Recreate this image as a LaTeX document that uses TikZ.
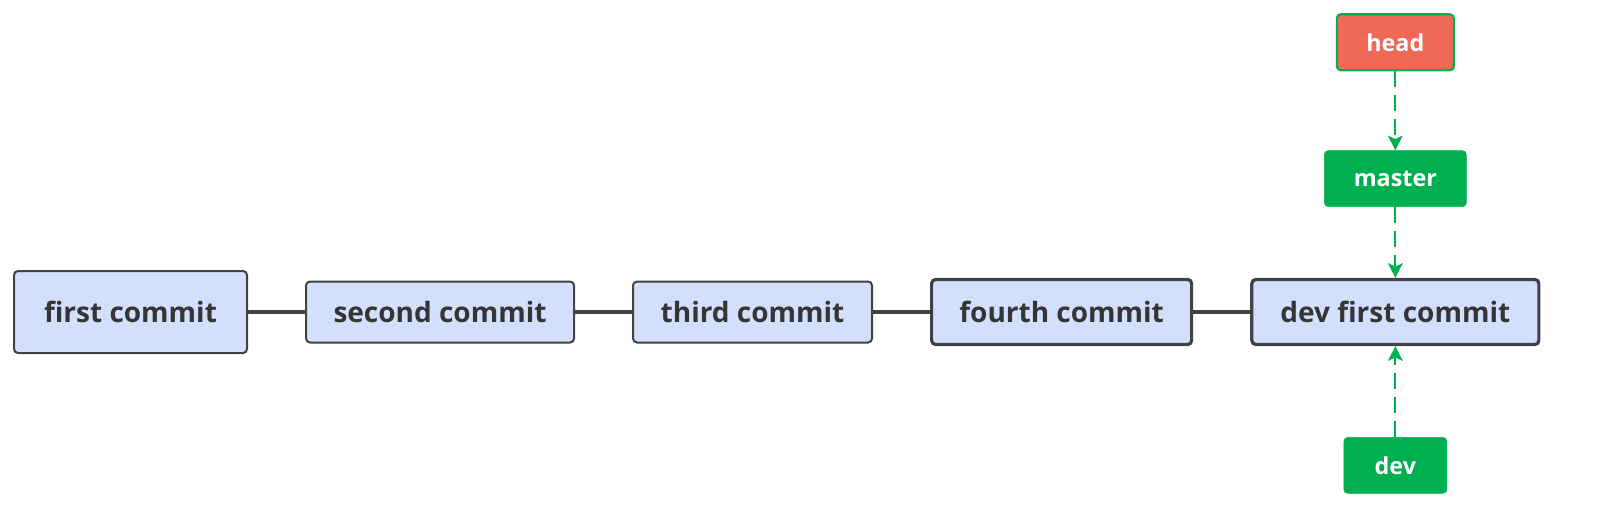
\documentclass[tikz,border=0pt]{standalone}
\usepackage{fontspec}
\setmainfont{Open Sans}
\usetikzlibrary{positioning, arrows.meta}

\definecolor{commitfill}{HTML}{D3E0FD}
\definecolor{commitline}{HTML}{424242}
\definecolor{branchgreen}{HTML}{00B050}
\definecolor{headred}{HTML}{EF6A56}

\tikzset{
  commit/.style={draw=commitline, fill=commitfill, line width=1.5pt,
    rounded corners=3pt, minimum height=45.75pt, inner sep=0pt,
    font=\fontsize{21}{24}\selectfont\bfseries, text=commitline!80!black},
  current/.style={commit, line width=2.4pt, minimum height=48.75pt},
  branch/.style={fill=branchgreen, draw=branchgreen, rounded corners=3pt,
    minimum height=42pt, inner sep=0pt, text=white,
    font=\fontsize{17.5}{20}\selectfont\bfseries},
  link/.style={draw=commitline, line width=2.4pt},
  pointer/.style={draw=branchgreen, line width=1.6pt, dash pattern=on 12pt off 6pt,
    -{Stealth[length=11pt, width=11pt, inset=2.5pt]}}
}

\begin{document}
\begin{tikzpicture}[node distance = 42.75pt]
\useasboundingbox (0,0) rectangle (1199.25pt,-393.75pt);

\node[commit, minimum width=174.75pt, minimum height=61.5pt] (first) at (97.9pt,-234pt) {first commit};
\node[commit, minimum width=201pt, right=of first] (second) {second commit};
\node[commit, minimum width=179.25pt, right=of second] (third) {third commit};
\node[current, minimum width=195pt, right=of third] (fourth) {fourth commit};
\node[current, minimum width=215.25pt, right=of fourth] (devfirst) {dev first commit};

\node[branch, minimum width=106.5pt, above=53.25pt of devfirst] (master) {master};
\node[branch, minimum width=87.75pt, above=59.25pt of master, fill=headred, line width=1.6pt] (head) {head};
\node[branch, minimum width=77.25pt, below=68.25pt of devfirst] (dev) {dev};

\draw[link] (first) -- (second);
\draw[link] (second) -- (third);
\draw[link] (third) -- (fourth);
\draw[link] (fourth) -- (devfirst);

\draw[pointer] (head) -- (master);
\draw[pointer] (master) -- (devfirst);
\draw[pointer] (dev) -- (devfirst);
\end{tikzpicture}
\end{document}
